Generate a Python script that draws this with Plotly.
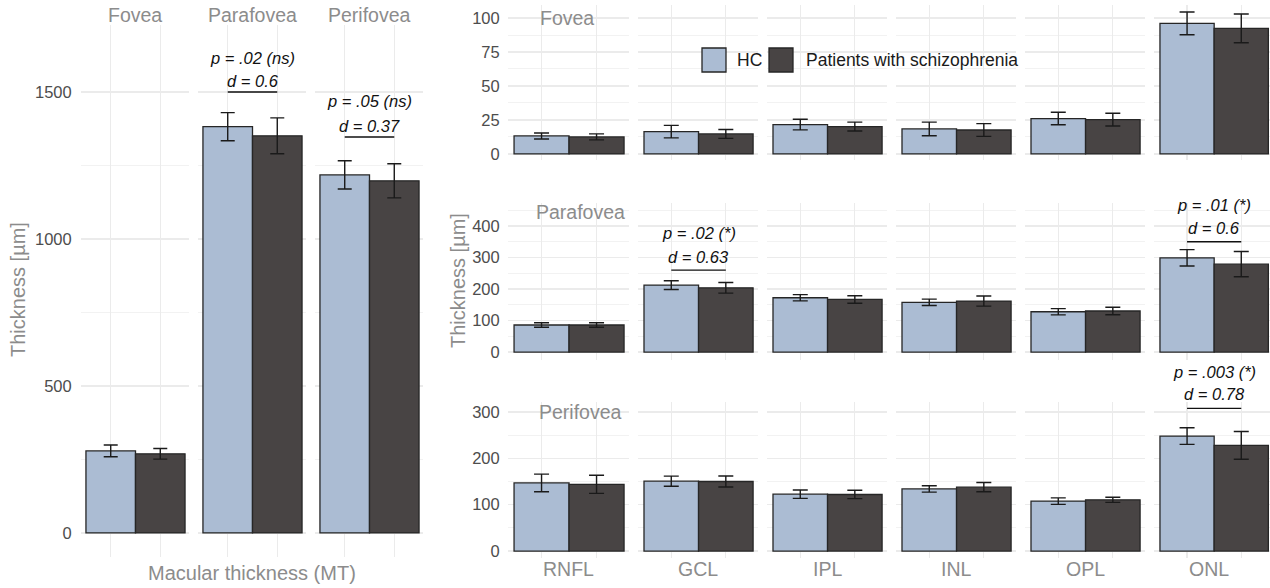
import plotly.graph_objects as go

W, H = 1270, 588

# ---------------- data ----------------
groups = ["HC", "Patients with schizophrenia"]
regions = ["Fovea", "Parafovea", "Perifovea"]
layers = ["RNFL", "GCL", "IPL", "INL", "OPL", "ONL"]

# Macular thickness (MT) per region
mt_hc_mean = [279, 1382, 1218]
mt_hc_err = [20, 48, 48]
mt_sz_mean = [269, 1351, 1198]
mt_sz_err = [18, 61, 58]

# Layer thickness, Fovea
fovea_hc_mean = [13.2, 16.4, 21.6, 18.4, 26.0, 96.1]
fovea_hc_err = [2.2, 4.6, 3.9, 5.0, 4.6, 8.4]
fovea_sz_mean = [12.5, 14.7, 20.1, 17.6, 25.2, 92.4]
fovea_sz_err = [2.2, 3.3, 3.3, 4.7, 4.7, 10.6]

# Layer thickness, Parafovea
para_hc_mean = [86, 212.6, 172.5, 158, 128, 299]
para_hc_err = [7, 14, 10, 10, 10, 26]
para_sz_mean = [86, 204, 167, 162, 130.5, 279]
para_sz_err = [7, 17, 12, 16, 12, 40]

# Layer thickness, Perifovea
peri_hc_mean = [147, 150.7, 122.7, 134, 107.7, 248]
peri_hc_err = [19, 11, 9, 7, 7, 18]
peri_sz_mean = [144, 150, 122, 137.8, 110.5, 228]
peri_sz_err = [19.5, 12, 9, 10, 5.5, 30]

# statistics labels
mt_stat_regions = ["Parafovea", "Perifovea"]
mt_stat_p = ["p = .02 (ns)", "p = .05 (ns)"]
mt_stat_d = ["d = 0.6", "d = 0.37"]

layer_stat_region = ["Parafovea", "Parafovea", "Perifovea"]
layer_stat_layer = ["GCL", "ONL", "ONL"]
layer_stat_p = ["p = .02 (*)", "p = .01 (*)", "p = .003 (*)"]
layer_stat_d = ["d = 0.63", "d = 0.6", "d = 0.78"]

# ---------------- style / layout ----------------
HC_COL = "#abbcd3"
SZ_COL = "#484444"
EDGE = "#262626"
GRID = "#ebebeb"
MINOR = "#f1f1f1"
TXT_GREY = "#8c8c8c"
TICK_COL = "#4d4d4d"
FONT = "Liberation Sans, Arial, sans-serif"
VFIX = 588.0 / 585.0  # small vertical correction for the capture

def px_x(p):
    return p / W

def px_y(p):
    return 1 - (p * VFIX) / H

left_x_dom = [(81, 189), (198, 306), (315, 423)]
left_y_dom = (25, 557)
left_yrange = [-82, 1728]
left_xrange = [0.4, 2.58]

right_x_dom = [(508, 629), (638, 758), (767, 887), (896, 1016), (1025, 1145), (1154, 1270)]
right_y_dom = [(5, 160), (203, 360), (402, 558)]
right_yrange = [[-4.5, 109.6], [-25, 473], [-15, 321.5]]
right_dtick = [25, 100, 100]
right_minor = [12.5, 50, 50]
right_xrange = [0.39, 2.59]
right_xrange_last = [0.39, 2.53]

# annotation heights (data units) for stats
mt_stat_y = {"Parafovea": (1616, 1537, 1500), "Perifovea": (1469, 1384, 1347)}
layer_stat_y = {("Parafovea", "GCL"): (377, 302.6, 260),
                ("Parafovea", "ONL"): (466.5, 394.5, 350),
                ("Perifovea", "ONL"): (386.8, 338, 307.8)}
facet_label_pos = {"Fovea": (1.47, 100), "Parafovea": (1.7, 444), "Perifovea": (1.7, 299)}

fig = go.Figure()
layout = dict(
    width=W, height=H,
    margin=dict(l=0, r=0, t=0, b=0),
    paper_bgcolor="white", plot_bgcolor="white",
    showlegend=False, barmode="overlay",
    font=dict(family=FONT, color=TICK_COL),
)
annotations = []
shapes = []


def ax_names(n):
    if n == 1:
        return "x", "y", "xaxis", "yaxis"
    return f"x{n}", f"y{n}", f"xaxis{n}", f"yaxis{n}"


def y_to_paper(val, ydom, yr):
    top, bot = ydom
    pix = bot - (val - yr[0]) / (yr[1] - yr[0]) * (bot - top)
    return px_y(pix)


def add_panel(n, xdom, ydom, xr, yr, dtick, minor, show_y, ticklen):
    xs, ys, xk, yk = ax_names(n)
    layout[xk] = dict(
        domain=[px_x(xdom[0]), px_x(xdom[1])], range=xr, anchor=ys,
        tickvals=[1, 2], showticklabels=False, showgrid=True,
        gridcolor=GRID, gridwidth=1.3, zeroline=False, showline=False,
        ticks="", fixedrange=True,
    )
    layout[yk] = dict(
        domain=[px_y(ydom[1]), px_y(ydom[0])], range=yr, anchor=xs,
        dtick=dtick, tick0=0, showticklabels=show_y, showgrid=True,
        gridcolor=GRID, gridwidth=1.3, zeroline=False, showline=False,
        ticks="outside" if show_y else "", ticklen=ticklen, tickcolor="rgba(0,0,0,0)",
        tickfont=dict(size=16.5, color=TICK_COL, family=FONT),
        minor=dict(dtick=minor, tick0=0, showgrid=True, gridcolor=MINOR, gridwidth=0.9),
        fixedrange=True,
    )
    return xs, ys


def add_bars(xs, ys, hc_m, hc_e, sz_m, sz_e, cap):
    for xpos, m, e, col, name in [(1, hc_m, hc_e, HC_COL, groups[0]), (2, sz_m, sz_e, SZ_COL, groups[1])]:
        fig.add_trace(go.Bar(
            x=[xpos], y=[m], width=[1], name=name,
            marker=dict(color=col, line=dict(color=EDGE, width=1.3)),
            error_y=dict(type="data", array=[e], visible=True, color="#1a1a1a",
                         thickness=1.4, width=cap),
            xaxis=xs, yaxis=ys, showlegend=False, hoverinfo="skip",
        ))


def add_stat(xs, ys, ptxt, dtxt, ypos, ydom, yr):
    yp, yd, yl = ypos
    for txt, yy in [(ptxt, yp), (dtxt, yd)]:
        annotations.append(dict(
            x=1.5, y=y_to_paper(yy, ydom, yr), xref=xs, yref="paper",
            text=f"<i>{txt}</i>", showarrow=False,
            font=dict(size=16.5, color="#111111", family=FONT),
            xanchor="center", yanchor="middle",
        ))
    shapes.append(dict(type="line", x0=1, x1=2, y0=yl, y1=yl, xref=xs, yref=ys,
                       line=dict(color="#111111", width=1.4)))


# ---- left section: macular thickness ----
for i, reg in enumerate(regions):
    n = i + 1
    xs, ys = add_panel(n, left_x_dom[i], left_y_dom, left_xrange, left_yrange,
                       500, 250, i == 0, 5)
    add_bars(xs, ys, mt_hc_mean[i], mt_hc_err[i], mt_sz_mean[i], mt_sz_err[i], 7)
    annotations.append(dict(
        x=px_x((left_x_dom[i][0] + left_x_dom[i][1]) / 2), y=px_y(15),
        xref="paper", yref="paper", text=reg, showarrow=False,
        font=dict(size=19.5, color=TXT_GREY, family=FONT),
        xanchor="center", yanchor="middle",
    ))
    if reg in mt_stat_regions:
        k = mt_stat_regions.index(reg)
        add_stat(xs, ys, mt_stat_p[k], mt_stat_d[k], mt_stat_y[reg], left_y_dom, left_yrange)

# ---- right section: layers ----
row_data = [
    (fovea_hc_mean, fovea_hc_err, fovea_sz_mean, fovea_sz_err),
    (para_hc_mean, para_hc_err, para_sz_mean, para_sz_err),
    (peri_hc_mean, peri_hc_err, peri_sz_mean, peri_sz_err),
]
for r, reg in enumerate(regions):
    hm, he, sm, se = row_data[r]
    for c, lay in enumerate(layers):
        n = 4 + r * 6 + c
        xr = right_xrange_last if c == 5 else right_xrange
        xs, ys = add_panel(n, right_x_dom[c], right_y_dom[r], xr, right_yrange[r],
                           right_dtick[r], right_minor[r], c == 0, 4)
        add_bars(xs, ys, hm[c], he[c], sm[c], se[c], 7.5)
        for k in range(len(layer_stat_p)):
            if layer_stat_region[k] == reg and layer_stat_layer[k] == lay:
                add_stat(xs, ys, layer_stat_p[k], layer_stat_d[k], layer_stat_y[(reg, lay)],
                         right_y_dom[r], right_yrange[r])
        if c == 0:
            fx, fy = facet_label_pos[reg]
            annotations.append(dict(
                x=fx, y=fy, xref=xs, yref=ys, text=reg, showarrow=False,
                font=dict(size=19.5, color=TXT_GREY, family=FONT),
                xanchor="center", yanchor="middle",
            ))
        if r == 2:
            annotations.append(dict(
                x=px_x((right_x_dom[c][0] + right_x_dom[c][1]) / 2 - (3 if c == 5 else 0)),
                y=px_y(569), xref="paper", yref="paper", text=lay, showarrow=False,
                font=dict(size=19.5, color=TXT_GREY, family=FONT),
                xanchor="center", yanchor="middle",
            ))

# ---- axis titles ----
annotations.append(dict(x=px_x(252), y=px_y(573), xref="paper", yref="paper",
                        text="Macular thickness (MT)", showarrow=False,
                        font=dict(size=20, color=TXT_GREY, family=FONT),
                        xanchor="center", yanchor="middle"))
annotations.append(dict(x=px_x(18), y=px_y(290), xref="paper", yref="paper",
                        text="Thickness [µm]", showarrow=False, textangle=-90,
                        font=dict(size=20, color=TXT_GREY, family=FONT),
                        xanchor="center", yanchor="middle"))
annotations.append(dict(x=px_x(458), y=px_y(281), xref="paper", yref="paper",
                        text="Thickness [µm]", showarrow=False, textangle=-90,
                        font=dict(size=20, color=TXT_GREY, family=FONT),
                        xanchor="center", yanchor="middle"))

# ---- legend (drawn) ----
legend_items = [(702, HC_COL, groups[0], 735), (769, SZ_COL, groups[1], 804)]
for x0, col, label, tx in legend_items:
    shapes.append(dict(type="rect", xref="paper", yref="paper",
                       x0=px_x(x0), x1=px_x(x0 + 24), y0=px_y(72), y1=px_y(48),
                       fillcolor=col, line=dict(color=EDGE, width=1.3), layer="above"))
    annotations.append(dict(x=px_x(tx), y=px_y(60), xref="paper", yref="paper",
                            text=label, showarrow=False,
                            font=dict(size=17.5, color="#1a1a1a", family=FONT),
                            xanchor="left", yanchor="middle"))

layout["annotations"] = annotations
layout["shapes"] = shapes
fig.update_layout(**layout)

post = (
    "var de=document.documentElement, b=document.body;"
    "de.style.margin='0';de.style.padding='0';de.style.overflow='hidden';de.style.height='588px';"
    "b.style.margin='0';b.style.padding='0';b.style.overflow='hidden';b.style.height='588px';"
    "var gd=document.getElementsByClassName('plotly-graph-div')[0];"
    "if(gd){gd.style.display='block';if(gd.parentNode){gd.parentNode.style.height='588px';"
    "gd.parentNode.style.overflow='hidden';gd.parentNode.style.lineHeight='0';}}"
)
fig.write_html("out.html", config={"displayModeBar": False, "staticPlot": True},
               post_script=post)
